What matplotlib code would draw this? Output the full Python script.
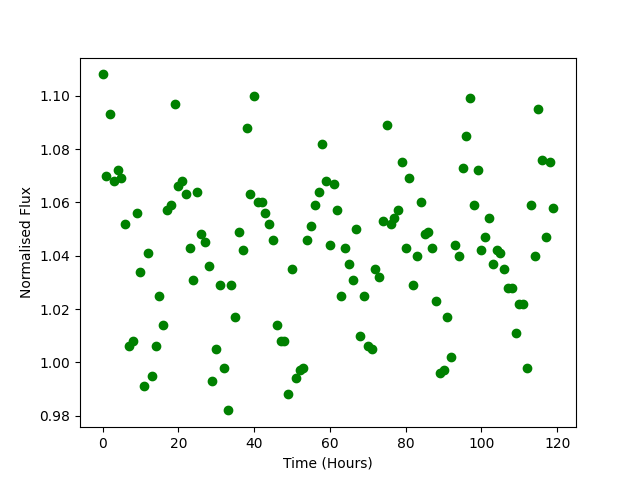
import numpy as np
import matplotlib
matplotlib.use('Agg')
import matplotlib.pyplot as plt

hours = np.arange(120)
flux = [
    1.108, 1.070, 1.093, 1.068, 1.072, 1.069, 1.052, 1.006, 1.008, 1.056,
    1.034, 0.991, 1.041, 0.995, 1.006, 1.025, 1.014, 1.057, 1.059, 1.097,
    1.066, 1.068, 1.063, 1.043, 1.031, 1.064, 1.048, 1.045, 1.036, 0.993,
    1.005, 1.029, 0.998, 0.982, 1.029, 1.017, 1.049, 1.042, 1.088, 1.063,
    1.100, 1.060, 1.060, 1.056, 1.052, 1.046, 1.014, 1.008, 1.008, 0.988,
    1.035, 0.994, 0.997, 0.998, 1.046, 1.051, 1.059, 1.064, 1.082, 1.068,
    1.044, 1.067, 1.057, 1.025, 1.043, 1.037, 1.031, 1.050, 1.010, 1.025,
    1.006, 1.005, 1.035, 1.032, 1.053, 1.089, 1.052, 1.054, 1.057, 1.075,
    1.043, 1.069, 1.029, 1.040, 1.060, 1.048, 1.049, 1.043, 1.023, 0.996,
    0.997, 1.017, 1.002, 1.044, 1.040, 1.073, 1.085, 1.099, 1.059, 1.072,
    1.042, 1.047, 1.054, 1.037, 1.042, 1.041, 1.035, 1.028, 1.028, 1.011,
    1.022, 1.022, 0.998, 1.059, 1.040, 1.095, 1.076, 1.047, 1.075, 1.058,
]


def main():
    plt.figure(figsize=(6.4, 4.8), dpi=100)
    plt.plot(hours, flux, 'o', color='green')
    plt.xlabel('Time (Hours)')
    plt.ylabel('Normalised Flux')
    plt.savefig('out.png')


if __name__ == '__main__':
    main()
